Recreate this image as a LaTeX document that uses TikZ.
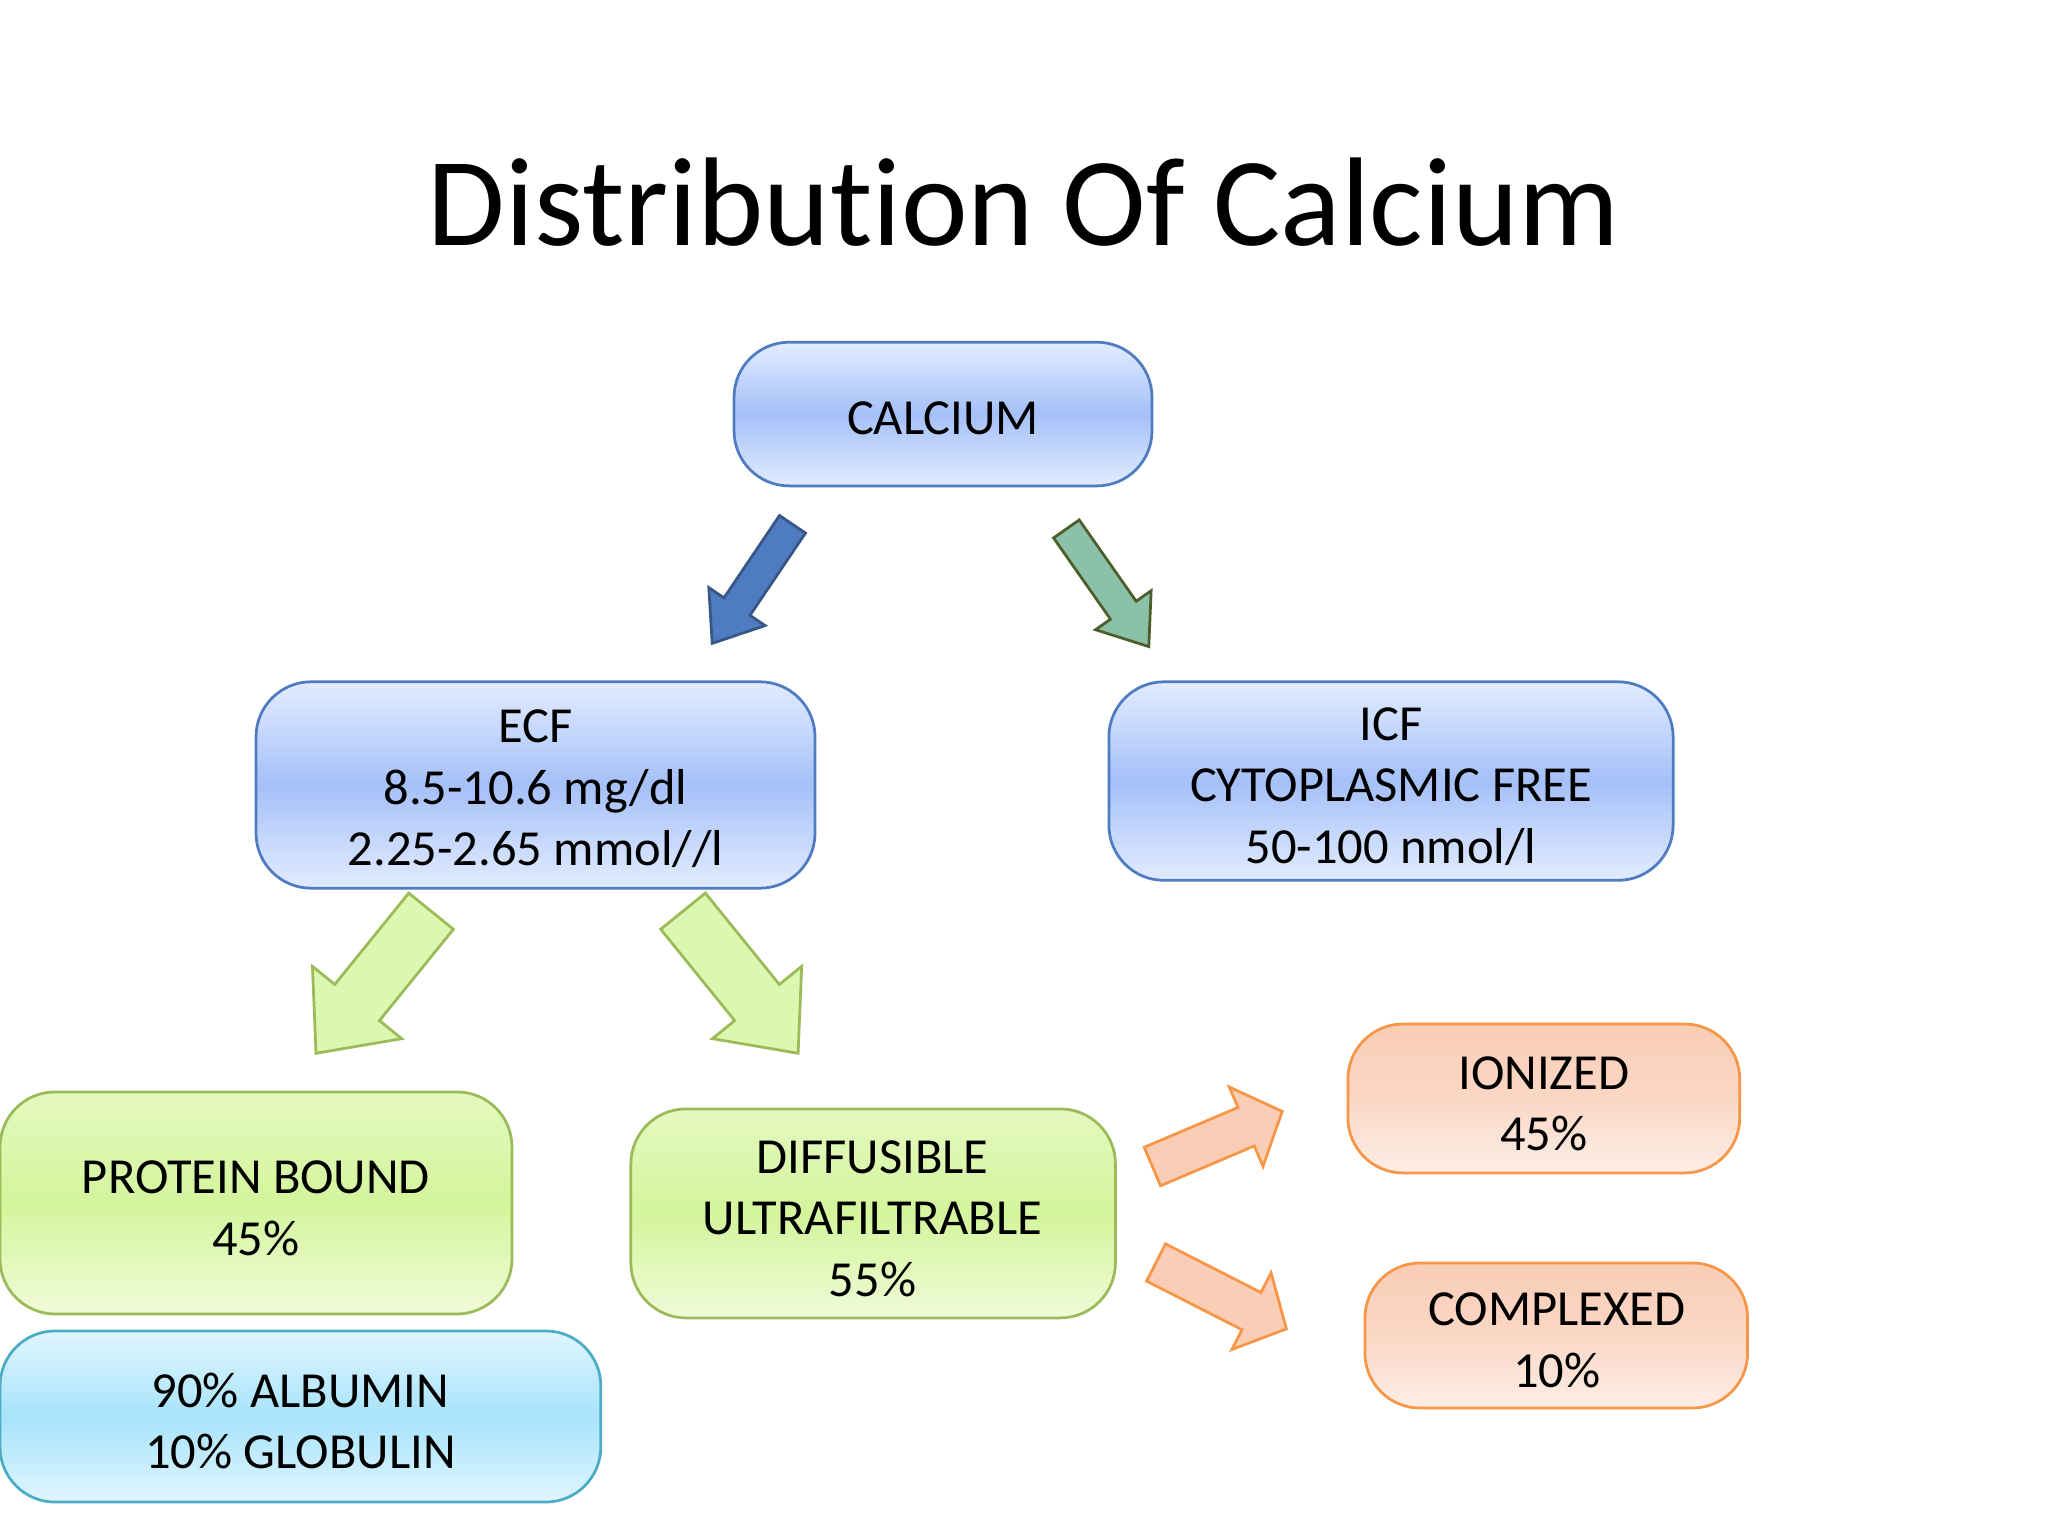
\documentclass[tikz,border=0pt]{standalone}
\usepackage{fontspec}
\setmainfont[Ligatures={NoCommon,NoRequired,NoContextual}]{Carlito}
\definecolor{bmid}{HTML}{A5C0F8}\definecolor{bend}{HTML}{E2ECFF}\definecolor{bbd}{HTML}{4F7CC0}
\definecolor{gmid}{HTML}{D3F59C}\definecolor{gend}{HTML}{F0FBD8}\definecolor{gbd}{HTML}{9BBB59}
\definecolor{cmid}{HTML}{A8E3FB}\definecolor{cend}{HTML}{E0F6FE}\definecolor{cbd}{HTML}{4BACC6}
\definecolor{omid}{HTML}{F9CDB6}\definecolor{oend}{HTML}{FDEEE6}\definecolor{obd}{HTML}{F79646}
\tikzset{
 bx/.style={rounded corners=12pt,line width=0.6pt},
 txt/.style={align=center,font=\fontsize{11}{13.4}\selectfont},
 bluebox/.style={bx,draw=bbd,top color=bend,bottom color=bend,middle color=bmid},
 greenbox/.style={bx,draw=gbd,top color=gend!60!gmid,bottom color=gend,middle color=gmid},
 cyanbox/.style={bx,draw=cbd,top color=cend,bottom color=cend,middle color=cmid},
 orbox/.style={bx,draw=obd,top color=omid,bottom color=oend,middle color=omid!70!oend},
}
% #1 style, #2 center, #3 angle, #4 L, #5 w, #6 h, #7 head length
\newcommand\blkarrow[7]{%
 \begin{scope}[shift={#2},rotate=#3]
 \pgfmathsetmacro\hL{#4/2}\pgfmathsetmacro\hB{#4/2-#7}
 \draw[#1,line width=0.6pt,line join=miter] (-\hL,-#5)--(\hB,-#5)--(\hB,-#6)--(\hL,0)--(\hB,#6)--(\hB,#5)--(-\hL,#5)--cycle;
 \end{scope}}
\begin{document}
\begin{tikzpicture}[x=0.1mm,y=-0.1mm]
\useasboundingbox[fill=white] (0,0) rectangle (1568,1176);
\node[font=\fontsize{27.5}{32}\selectfont] (title) at (784,155) {Distribution Of Calcium};
\path[bluebox] (562,262) rectangle (882,372);
\node[txt] (ca) at (722,320) {CALCIUM};
\path[bluebox] (196,522) rectangle (624,680);
\node[txt] (ecf) at (410,604) {ECF\\8.5-10.6 mg/dl\\2.25-2.65 mmol//l};
\path[bluebox] (849,522) rectangle (1281,674);
\node[txt] (icf) at (1065,602) {ICF\\CYTOPLASMIC FREE\\50-100 nmol/l};
\path[greenbox] (0,836) rectangle (392,1006);
\node[txt] (pb) at (196,925) {PROTEIN BOUND\\45\%};
\path[cyanbox] (0,1019) rectangle (460,1150);
\node[txt] (alb) at (230,1088) {90\% ALBUMIN\\10\% GLOBULIN};
\path[greenbox] (483,849) rectangle (854,1009);
\node[txt] (dif) at (668,933) {DIFFUSIBLE\\ULTRAFILTRABLE\\55\%};
\path[orbox] (1032,784) rectangle (1332,898);
\node[txt] (ion) at (1182,845) {IONIZED\\45\%};
\path[orbox] (1045,967) rectangle (1338,1078);
\node[txt] (cpx) at (1192,1026) {COMPLEXED\\10\%};
% block arrows
\blkarrow{draw=bbd!70!black,fill=bbd}{(576,447)}{-124}{110}{12}{26}{34}
\blkarrow{draw=gbd!50!black,fill=gbd!40!teal!60}{(848,450)}{-55}{110}{12}{26}{34}
\blkarrow{draw=gbd,fill=gmid!80!white}{(286,752)}{-129}{140}{22}{44}{50}
\blkarrow{draw=gbd,fill=gmid!80!white}{(567,752)}{-51}{140}{22}{44}{50}
\blkarrow{draw=obd,fill=omid}{(932,872)}{23}{108}{16}{33}{30}
\blkarrow{draw=obd,fill=omid}{(935,992)}{-27}{112}{16}{33}{30}
\end{tikzpicture}
\end{document}
